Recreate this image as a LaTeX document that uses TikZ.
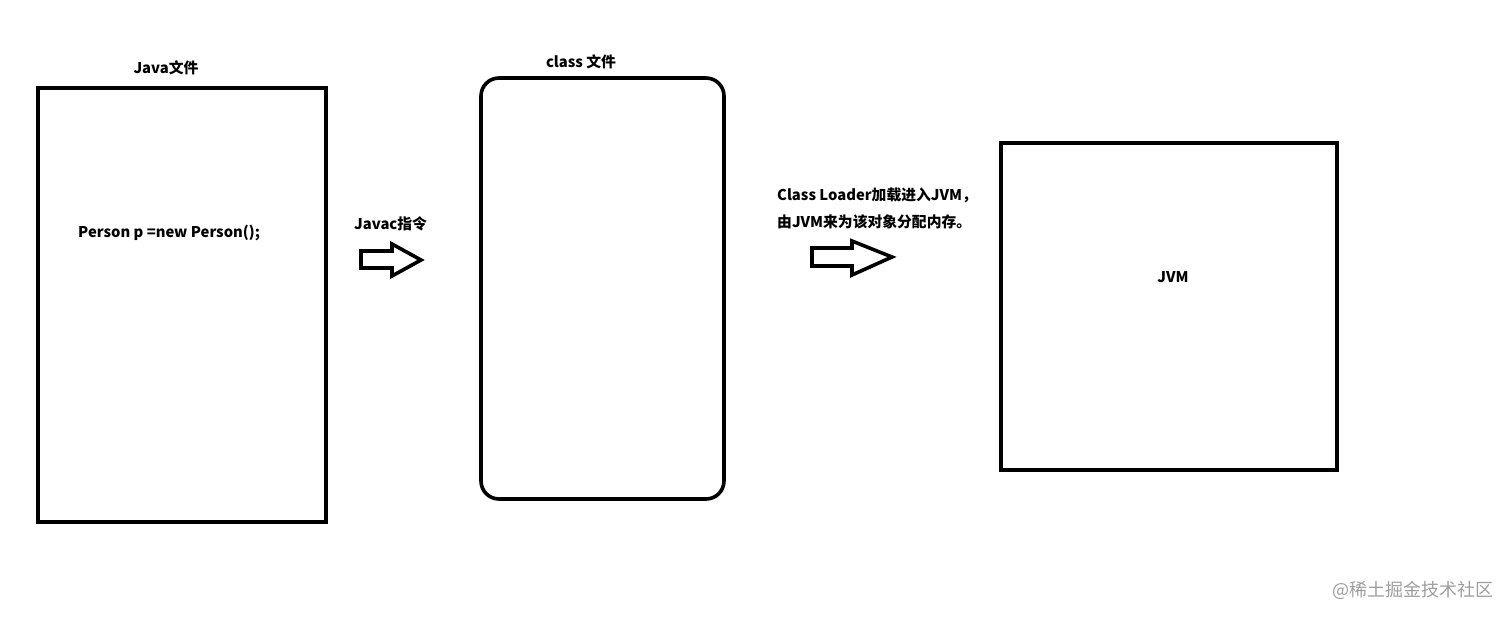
\documentclass[tikz,border=0pt]{standalone}
\usepackage{fontspec}
\setmainfont{Noto Sans CJK SC}
\newfontfamily\wmfont{Noto Sans CJK SC}
\begin{document}
\begin{tikzpicture}[x=1pt,y=-1pt,
  box/.style={draw=black,line width=3.6pt},
  lbl/.style={font=\fontsize{14.8}{17}\selectfont\bfseries,inner sep=0pt},
  bigarrow/.style={draw=black,line width=3.6pt,line join=miter,fill=white}]
\useasboundingbox (0,0) rectangle (1512,619);
% boxes
\node[box,minimum width=288pt,minimum height=434pt,inner sep=0pt] (java) at (182,305) {};
\node[box,rounded corners=18pt,minimum width=243pt,minimum height=421pt,inner sep=0pt] (cls) at (602.5,288.5) {};
\node[box,minimum width=336pt,minimum height=327pt,inner sep=0pt] (jvm) at (1169,306.5) {};
% titles
\node[lbl] (javat) at (166,68) {Java文件};
\node[lbl] (clst) at (581,62) {class 文件};
\node[lbl,anchor=west] (code) at (78,233) {Person p =new Person();};
\node[lbl] (jvmt) at (1173,277) {JVM};
\node[lbl,anchor=west] (javac) at (354,224) {Javac指令};
\node[lbl,anchor=west] (cl1) at (777,195) {Class Loader加载进入JVM，};
\node[lbl,anchor=west] (cl2) at (777,222) {由JVM来为该对象分配内存。};
% arrows
\draw[bigarrow] (361,251) -- (392,251) -- (392,244) -- (421,260) -- (392,276) -- (392,268) -- (361,268) -- cycle;
\draw[bigarrow] (812,248) -- (852,248) -- (852,241) -- (892,257) -- (852,275) -- (852,266) -- (812,266) -- cycle;
% watermark
\node[font=\wmfont\fontsize{18}{21}\selectfont,text=black!38,anchor=east,inner sep=0pt] (wm) at (1494,590) {@稀土掘金技术社区};
\end{tikzpicture}
\end{document}
